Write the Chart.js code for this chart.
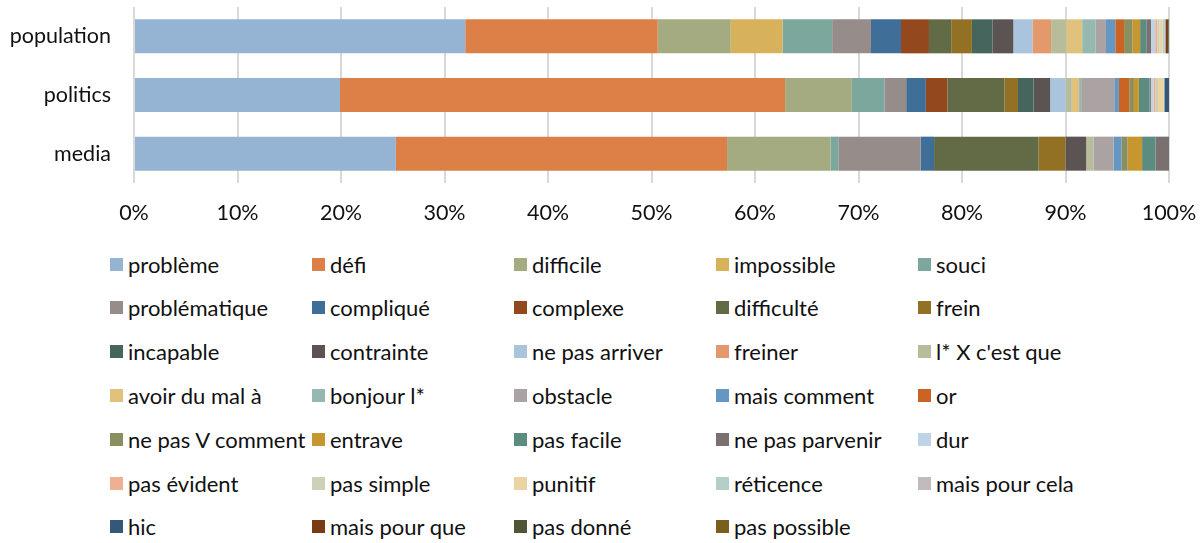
<!DOCTYPE html>
<html>
<head>
<meta charset="utf-8">
<script src="https://cdn.jsdelivr.net/npm/chart.js@4.4.1/dist/chart.umd.min.js"></script>
<style>
  body { margin: 0; background: #fff; width: 1203px; height: 543px; overflow: hidden; font-family: 'Lato', sans-serif; }
  #wrap { position: absolute; left: 0; top: 0; width: 1203px; height: 235px; }
  .item { position: absolute; display: flex; align-items: center; white-space: nowrap; font-size: 22px; color: #111; height: 26px; }
  .sw { width: 13px; height: 13px; margin-right: 5px; flex: none; }
</style>
</head>
<body>
<div id="wrap"><canvas id="chart" width="1203" height="235"></canvas></div>
<div id="legend"></div>
<script>
const categories = ['population', 'politics', 'media'];

const seriesNames = [
  'problème', 'défi', 'difficile', 'impossible', 'souci',
  'problématique', 'compliqué', 'complexe', 'difficulté', 'frein',
  'incapable', 'contrainte', 'ne pas arriver', 'freiner', "l* X c'est que",
  'avoir du mal à', 'bonjour l*', 'obstacle', 'mais comment', 'or',
  'ne pas V comment', 'entrave', 'pas facile', 'ne pas parvenir', 'dur',
  'pas évident', 'pas simple', 'punitif', 'réticence', 'mais pour cela',
  'hic', 'mais pour que', 'pas donné', 'pas possible'
];

const seriesColors = [
  '#95B3D2', '#DD8047', '#A4AB80', '#D8B15B', '#7BA79D',
  '#968C8A', '#3F6F98', '#93491D', '#636B46', '#937124',
  '#46665D', '#5C5353', '#A9C4DC', '#E3996B', '#B7BD9A',
  '#E0C27D', '#95B9B1', '#ABA3A3', '#6497C1', '#C96425',
  '#8A8F5F', '#C6972F', '#5C8B7F', '#7A7070', '#BFD3E8',
  '#EEB093', '#CDD1B7', '#EAD5A2', '#B2CFC8', '#C1BBBB',
  '#335878', '#7A3A14', '#4F5536', '#7A5E1C'
];

// shares per category (%), same order as seriesNames
const population = [
  32.0, 18.6, 7.05, 5.0, 4.8,
  3.75, 2.9, 2.7, 2.15, 2.0,
  2.0, 2.0, 1.85, 1.8, 1.5,
  1.5, 1.3, 1.0, 0.9, 0.85,
  0.8, 0.75, 0.6, 0.45, 0.4,
  0.22, 0.22, 0.3, 0.15, 0.1,
  0.05, 0.2, 0.05, 0.05
];
const politics = [
  19.9, 43.0, 6.45, 0, 3.15,
  2.1, 1.9, 2.1, 5.5, 1.3,
  1.5, 1.6, 1.5, 0, 0.6,
  0.7, 0.2, 3.2, 0.45, 1.0,
  0.45, 0.48, 1.03, 0.13, 0.25,
  0.2, 0.25, 0.55, 0.05, 0,
  0.45, 0, 0, 0
];
const media = [
  25.3, 32.0, 10.0, 0, 0.75,
  7.95, 1.3, 0, 10.1, 2.6,
  0, 2.0, 0, 0, 0.7,
  0, 0, 1.95, 0.75, 0,
  0.6, 1.4, 1.3, 1.3, 0,
  0, 0, 0, 0, 0,
  0, 0, 0, 0
];

const xTicks = [0, 10, 20, 30, 40, 50, 60, 70, 80, 90, 100];

// 100% stacked: scale each category to its total
const rows = [population, politics, media];
const totals = rows.map(r => r.reduce((s, v) => s + v, 0));
const pct = (r, i) => rows[r][i] / totals[r] * 100;

const datasets = seriesNames.map((name, i) => ({
  label: name,
  data: categories.map((c, r) => pct(r, i)),
  backgroundColor: seriesColors[i],
  borderWidth: 0,
  barPercentage: 0.58,
  categoryPercentage: 1
}));

const font = { family: 'Lato', size: 21.5 };

new Chart(document.getElementById('chart'), {
  type: 'bar',
  data: { labels: categories, datasets },
  options: {
    indexAxis: 'y',
    responsive: false,
    animation: false,
    devicePixelRatio: 1,
    layout: { padding: { top: 7, right: 34, left: 0, bottom: 0 } },
    plugins: { legend: { display: false }, tooltip: { enabled: false } },
    scales: {
      x: {
        stacked: true,
        min: 0,
        max: 100,
        afterBuildTicks: (s) => { s.ticks = xTicks.map(v => ({ value: v })); },
        afterFit: (s) => { s.height = 52; },
        ticks: { callback: (v) => v + '%', font, color: '#111', padding: 0, maxRotation: 0 },
        grid: { color: '#D9D9D9', lineWidth: 2, drawTicks: true, tickLength: 17, tickColor: 'rgba(0,0,0,0)' },
        border: { display: false }
      },
      y: {
        stacked: true,
        afterFit: (s) => { s.width = 134; },
        ticks: { font, color: '#111', padding: -6 },
        grid: { display: false, drawTicks: true, tickLength: 29 },
        border: { display: false }
      }
    }
  }
});

// legend in 5 columns, like the original
const legend = document.getElementById('legend');
seriesNames.forEach((name, i) => {
  const col = i % 5, row = Math.floor(i / 5);
  const el = document.createElement('div');
  el.className = 'item';
  el.style.left = (110 + col * 202) + 'px';
  el.style.top = (264 + row * 43.8 - 13) + 'px';
  el.innerHTML = '<span class="sw" style="background:' + seriesColors[i] + '"></span>';
  el.appendChild(document.createTextNode(name));
  legend.appendChild(el);
});
</script>
</body>
</html>
